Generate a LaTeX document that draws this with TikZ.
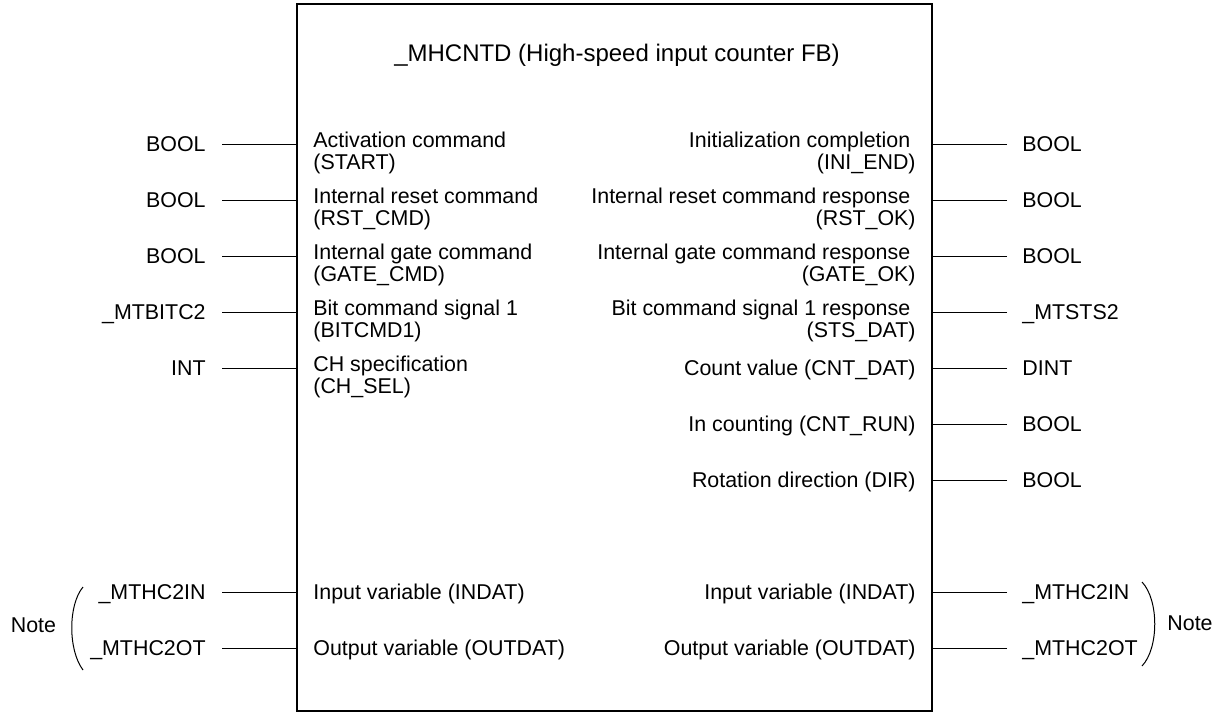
\documentclass[tikz,border=0pt]{standalone}
\usepackage{fontspec}
\setmainfont{Liberation Sans}
\usetikzlibrary{positioning}
\newcommand{\pinfont}{\fontsize{10.7}{10.9}\selectfont}
\tikzset{
  fbbox/.style={draw, line width=0.6pt, minimum width=317.5pt, minimum height=353.5pt, inner sep=0pt},
  typein/.style={anchor=east, inner xsep=8pt, inner ysep=0pt, text height=7.7pt, text depth=0pt},
  typeout/.style={anchor=west, inner xsep=7.5pt, inner ysep=0pt, text height=7.7pt, text depth=0pt},
  pinin/.style={anchor=base west, align=left, inner sep=0pt},
  pinout/.style={anchor=base east, align=right, inner sep=0pt},
  wire/.style={line width=0.5pt},
  paren/.style={line width=0.5pt}
}

\begin{document}
\begin{tikzpicture}[x=0.5pt, y=-0.5pt, font=\pinfont]
  \useasboundingbox (0,0) rectangle (1231,713);
  \node[fbbox] (fb) at (614.5,357.5) {};
  \node[font=\fontsize{12}{14}\selectfont, anchor=base] (title) at (617,61) {\_MHCNTD (High-speed input counter FB)};

  % inputs
  \foreach \n/\y/\dy/\typ/\pin in {
      1/144/25.3/BOOL/{Activation command\\(START)},
      2/200/25.3/BOOL/{Internal reset command\\(RST\_CMD)},
      3/256/25.3/BOOL/{Internal gate command\\(GATE\_CMD)},
      4/312/25.3/\_MTBITC2/{Bit command signal 1\\(BITCMD1)},
      5/368/25.3/INT/{CH specification\\(CH\_SEL)},
      6/592/7/\_MTHC2IN/{Input variable (INDAT)},
      7/648/7/\_MTHC2OT/{Output variable (OUTDAT)}} {
    \node[typein] (ti\n) at (222,\y) {\typ};
    \draw[wire] (ti\n.east) -- (ti\n.east -| fb.west);
    \node[pinin] (pi\n) at (313,\y+\dy) {\pin};
  }

  % outputs
  \foreach \n/\y/\dy/\typ/\pin in {
      1/144/25.3/BOOL/{Initialization completion\kern2.7pt\\(INI\_END)},
      2/200/25.3/BOOL/{Internal reset command response\kern2.7pt\\(RST\_OK)},
      3/256/25.3/BOOL/{Internal gate command response\kern2.7pt\\(GATE\_OK)},
      4/312/25.3/\_MTSTS2/{Bit command signal 1 response\kern2.7pt\\(STS\_DAT)},
      5/368/7/DINT/{Count value (CNT\_DAT)},
      6/424/7/BOOL/{In counting (CNT\_RUN)},
      7/480/7/BOOL/{Rotation direction (DIR)},
      8/592/7/\_MTHC2IN/{Input variable (INDAT)},
      9/648/7/\_MTHC2OT/{Output variable (OUTDAT)}} {
    \node[typeout] (to\n) at (1007,\y) {\typ};
    \draw[wire] (to\n.west) -- (to\n.west -| fb.east);
    \node[pinout] (po\n) at (916,\y+\dy) {\pin};
  }

  % notes
  \node[inner sep=0pt] (noteL) at (33.5,625) {Note};
  \node[inner sep=0pt] (noteR) at (1190,623) {Note};
  \draw[paren] (83,587) .. controls (68,605) and (68,650) .. (83,670);
  \draw[paren] (1142,582) .. controls (1159,600) and (1159,648) .. (1142,666);
\end{tikzpicture}
\end{document}
